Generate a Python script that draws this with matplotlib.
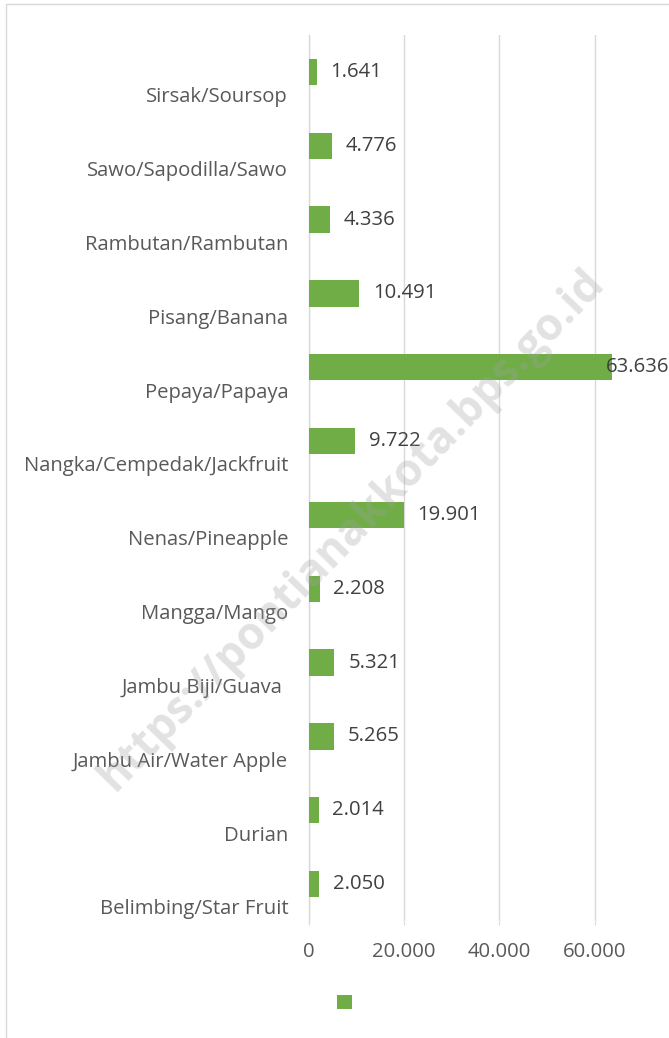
import matplotlib
matplotlib.use("Agg")
import matplotlib.pyplot as plt
import matplotlib.transforms as mtransforms
from matplotlib.patches import Rectangle

# Data (bottom to top)
fruits = [
    "Belimbing/Star Fruit", "Durian", "Jambu Air/Water Apple", "Jambu Biji/Guava ",
    "Mangga/Mango", "Nenas/Pineapple", "Nangka/Cempedak/Jackfruit", "Pepaya/Papaya",
    "Pisang/Banana", "Rambutan/Rambutan", "Sawo/Sapodilla/Sawo", "Sirsak/Soursop",
]
production = [2050, 2014, 5265, 5321, 2208, 19901, 9722, 63636, 10491, 4336, 4776, 1641]
xticks = [0, 20000, 40000, 60000]

plt.rcParams['font.family'] = ['Open Sans', 'DejaVu Sans']
fs = 14.6

W, H = 669, 1038
fig = plt.figure(figsize=(W / 100, H / 100), dpi=100)

# plot area in pixels: x0 at 309, 20.000 = 95.2 px, top 35, bottom 921
left, top, bottom = 309, 35, 921
right = left + 4 * 95.2
ax = fig.add_axes([left / W, 1 - bottom / H, (right - left) / W, (bottom - top) / H])

y = list(range(len(fruits)))
bars = ax.barh(y, production, height=0.355, color='#70ad47', zorder=3)

ax.set_xlim(0, 80000)
ax.set_ylim(-0.5, len(fruits) - 0.5)
ax.set_xticks(xticks + [80000])
ax.set_xticklabels([f"{v:,}".replace(',', '.') for v in xticks] + [''])
ax.grid(True, axis='x', color='#d9d9d9', linewidth=1.0, zorder=0)
ax.grid(False, axis='y')

# category labels sit a bit below the bar
ax.set_yticks([v - 0.31 for v in y])
ax.set_yticklabels(fruits)
ax.tick_params(axis='y', length=0, pad=15, labelsize=fs, labelcolor='#595959')
ax.tick_params(axis='x', length=3, color='#d9d9d9', pad=12, labelsize=fs, labelcolor='#595959')

for s in ['top', 'right', 'bottom']:
    ax.spines[s].set_visible(False)
ax.spines['left'].set_color('#d9d9d9')
ax.spines['left'].set_linewidth(1.0)

# data labels
edge = mtransforms.blended_transform_factory(fig.transFigure, ax.transData)
for yi, v in zip(y, production):
    txt = f"{v:,}".replace(',', '.')
    if v > 60000:
        ax.text(1.0, yi, txt, transform=edge, ha='right', va='center',
                fontsize=fs, color='#404040', zorder=5)
    else:
        ax.annotate(txt, xy=(v, yi), xytext=(10, 0), textcoords='offset points',
                    ha='left', va='center', fontsize=fs, color='#404040', zorder=5)

# legend without text
leg = fig.legend(handles=[bars], labels=[''], loc='center', bbox_to_anchor=(344 / W, 1 - 1003 / H),
                 frameon=False, handlelength=1.0, handleheight=1.0, fontsize=10.8,
                 handletextpad=0, borderpad=0)

# chart border
fig.add_artist(Rectangle((6 / W, -0.1), 2, 1 - 4 / H + 0.1, transform=fig.transFigure,
                         fill=False, edgecolor='#d9d9d9', linewidth=1.0))

# watermark
fig.text(352 / W, 1 - 530 / H, "https://pontianakkota.bps.go.id", rotation=46,
         ha='center', va='center', fontsize=32, fontweight='bold', color='#a0a0a0',
         alpha=0.3, zorder=10)

fig.savefig("out.png", dpi=100)
